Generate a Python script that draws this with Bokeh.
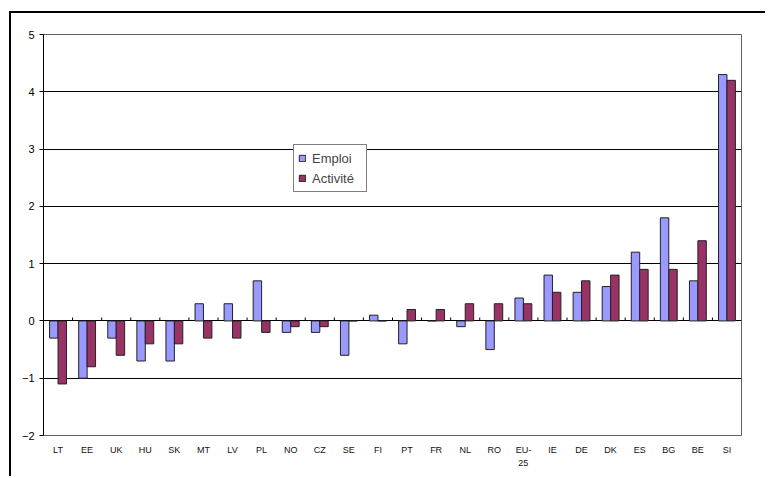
import numpy as np
from bokeh.plotting import figure
from bokeh.models import Range1d, ColumnDataSource, FixedTicker, Legend, LegendItem, LinearAxis
from bokeh.embed import file_html
from bokeh.resources import INLINE

categories = ["LT", "EE", "UK", "HU", "SK", "MT", "LV", "PL", "NO", "CZ", "SE", "FI",
              "PT", "FR", "NL", "RO", "EU-25", "IE", "DE", "DK", "ES", "BG", "BE", "SI"]
emploi = [-0.3, -1.0, -0.3, -0.7, -0.7, 0.3, 0.3, 0.7, -0.2, -0.2, -0.6, 0.1,
          -0.4, 0.0, -0.1, -0.5, 0.4, 0.8, 0.5, 0.6, 1.2, 1.8, 0.7, 4.3]
activite = [-1.1, -0.8, -0.6, -0.4, -0.4, -0.3, -0.3, -0.2, -0.1, -0.1, 0.0, 0.0,
            0.2, 0.2, 0.3, 0.3, 0.3, 0.5, 0.7, 0.8, 0.9, 0.9, 1.4, 4.2]
y_ticks = [-2, -1, 0, 1, 2, 3, 4, 5]

n = len(categories)
centers = np.arange(n) + 0.5
bw = 0.29
src = ColumnDataSource(dict(xe=centers - bw / 2, xa=centers + bw / 2,
                            emploi=emploi, activite=activite))

p = figure(x_range=Range1d(0, n), y_range=Range1d(-2, 5),
           width=756, height=465, output_backend="svg", toolbar_location=None,
           min_border_left=32, min_border_right=26, min_border_top=21, min_border_bottom=43)
p.styles = {"border-left": "2px solid black", "border-top": "2px solid black",
            "margin-left": "9px", "margin-top": "11px"}

r1 = p.vbar(x="xe", top="emploi", bottom=0, width=bw, source=src,
            fill_color="#9999FF", line_color="#222222", line_width=1)
r2 = p.vbar(x="xa", top="activite", bottom=0, width=bw, source=src,
            fill_color="#993366", line_color="#222222", line_width=1)

# category tick marks on the zero line, between categories
bounds = np.arange(1, n)
p.segment(x0=bounds, x1=bounds, y0=0, y1=0.06, line_color="black", line_width=1)

p.ygrid.ticker = FixedTicker(ticks=y_ticks)
p.ygrid.grid_line_color = "black"
p.ygrid.grid_line_width = 1
p.xgrid.grid_line_color = None
p.outline_line_color = "#606060"
p.outline_line_width = 1

p.yaxis.ticker = FixedTicker(ticks=y_ticks)
p.yaxis.axis_line_color = "black"
p.yaxis.major_tick_line_color = "black"
p.yaxis.major_tick_out = 4
p.yaxis.major_tick_in = 0
p.yaxis.minor_tick_line_color = None
p.yaxis.major_label_text_font = "Liberation Sans"
p.yaxis.major_label_text_font_size = "11px"
p.yaxis.major_label_text_color = "black"
p.yaxis.major_label_standoff = 5

labels = {float(c): cat for c, cat in zip(centers, categories)}
labels[float(centers[categories.index("EU-25")])] = "EU-"
xa = p.xaxis[0]
xa.ticker = FixedTicker(ticks=list(centers))
xa.major_label_overrides = labels
xa.axis_line_color = None
xa.major_tick_line_color = None
xa.minor_tick_line_color = None
xa.major_tick_out = 0
xa.major_tick_in = 0
xa.major_label_text_font = "Liberation Sans"
xa.major_label_text_font_size = "9px"
xa.major_label_text_color = "#111111"
xa.major_label_standoff = 9

# second line of the "EU-25" label
eu_c = float(centers[categories.index("EU-25")])
xa2 = LinearAxis(ticker=FixedTicker(ticks=[eu_c]), major_label_overrides={eu_c: "25"},
                 axis_line_color=None, major_tick_line_color=None, minor_tick_line_color=None,
                 major_tick_out=0, major_tick_in=0, major_label_standoff=2,
                 major_label_text_font="Liberation Sans", major_label_text_font_size="9px",
                 major_label_text_color="#111111")
p.add_layout(xa2, "below")

legend = Legend(items=[LegendItem(label="Emploi", renderers=[r1]),
                       LegendItem(label="Activité", renderers=[r2])],
                location=(250, 243), orientation="vertical")
legend.label_text_font = "Liberation Sans"
legend.label_text_font_size = "13px"
legend.label_height = 18
legend.label_width = 50
legend.glyph_width = 8
legend.glyph_height = 8
legend.spacing = 2
legend.padding = 4
legend.margin = 0
legend.label_standoff = 6
legend.border_line_color = "black"
legend.border_line_width = 1
legend.background_fill_color = "white"
legend.background_fill_alpha = 1
p.add_layout(legend, "center")

open("out.html", "w").write(file_html(p, INLINE))
